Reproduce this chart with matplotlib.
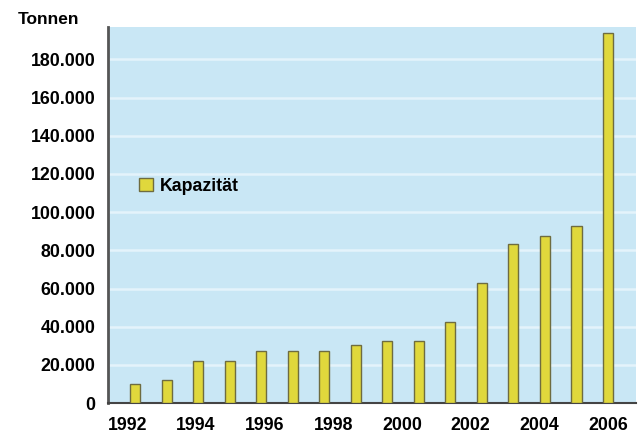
import numpy as np
import matplotlib
matplotlib.use("Agg")
import matplotlib.pyplot as plt

plt.rcParams['font.family'] = ['Liberation Sans', 'DejaVu Sans']
plt.rcParams['font.weight'] = 'bold'

# Kapazität in Tonnen, 16 Balken
kapazitaet = [10000, 12000, 22000, 22000, 27300, 27300, 27300, 30400,
              32400, 32400, 42700, 63000, 83400, 87400, 93000, 194000]
jahr_labels = ['1992', '1994', '1996', '1998', '2000', '2002', '2004', '2006']
y_ticks = [0, 20000, 40000, 60000, 80000, 100000, 120000, 140000, 160000, 180000]
y_labels = ['0', '20.000', '40.000', '60.000', '80.000', '100.000',
            '120.000', '140.000', '160.000', '180.000']

bg = '#c9e7f5'
bar_col = '#e0d83c'
edge_col = '#6e6c40'

fig = plt.figure(figsize=(6.4, 4.34), dpi=100)
ax = fig.add_axes([0.169, 0.071, 0.825, 0.867])
ax.set_facecolor(bg)

x = np.arange(len(kapazitaet))
ax.bar(x, kapazitaet, width=0.33, color=bar_col, edgecolor=edge_col,
       linewidth=1.0, zorder=3, label='Kapazität')

ax.set_xlim(-0.86, 15.9)
ax.set_ylim(0, 197000)

ax.set_yticks(y_ticks)
ax.set_yticklabels(y_labels, fontsize=12.8, fontweight='bold')
ax.set_xticks(np.linspace(-0.25, 15.0, len(jahr_labels)))
ax.set_xticklabels(jahr_labels, fontsize=12.8, fontweight='bold')
ax.tick_params(axis='y', length=0, pad=9)
ax.tick_params(axis='x', length=0, pad=10)

ax.grid(axis='y', color='#e4f3fb', linewidth=1.8, zorder=1)
ax.set_axisbelow(True)

for s in ['top', 'right']:
    ax.spines[s].set_visible(False)
ax.spines['left'].set_color('#555555')
ax.spines['left'].set_linewidth(2)
ax.spines['bottom'].set_color('#444444')
ax.spines['bottom'].set_linewidth(1.5)

fig.text(0.027, 0.955, 'Tonnen', fontsize=12.5, fontweight='bold', va='center')

leg = ax.legend(loc='upper left', bbox_to_anchor=(0.042, 0.623), frameon=False,
                fontsize=12.8, handlelength=0.75, handleheight=0.75,
                handletextpad=0.4, borderpad=0)
for t in leg.get_texts():
    t.set_fontweight('bold')

fig.savefig('out.png', dpi=100)
